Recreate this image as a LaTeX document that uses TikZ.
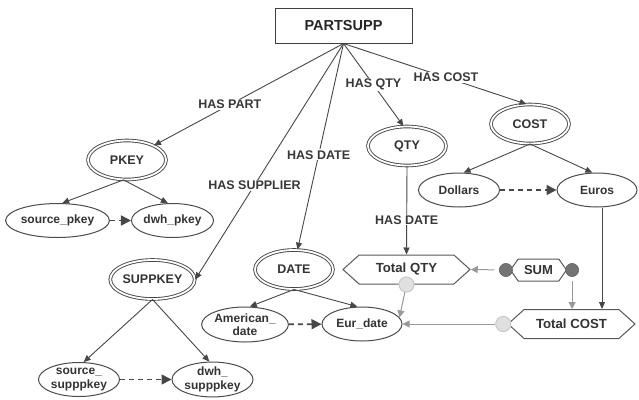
\documentclass[tikz,border=0pt]{standalone}
\usepackage{fontspec}
\setmainfont{Liberation Sans}
\usetikzlibrary{shapes.geometric,shapes.symbols,arrows.meta,calc}
\begin{document}
\begin{tikzpicture}[x=1pt,y=-1pt,
  lncol/.style={draw=black!72},
  ln/.style={lncol, line width=0.9pt},
  arr/.style={ln, -{Triangle[length=7pt,width=6pt]}},
  garr/.style={draw=black!40, line width=1pt, -{Triangle[length=7pt,width=7pt]}},
  dsh/.style={lncol, line width=1.7pt, dash pattern=on 5pt off 4pt, -{Triangle[length=10pt,width=10pt]}},
  lbl/.style={fill=white, inner sep=1pt, font=\bfseries\fontsize{12.5}{14}\selectfont, text=black!78},
  dbl/.style={ellipse, draw=black!72, double, double distance=1.8pt, line width=0.9pt,
    minimum width=78pt, minimum height=39pt, inner sep=0pt,
    font=\bfseries\fontsize{12.5}{14}\selectfont, text=black!80},
  ell/.style={ellipse, draw=black!70, line width=1pt, minimum width=81pt, minimum height=34pt,
    inner sep=0pt, align=center, font=\bfseries\fontsize{12}{13.5}\selectfont, text=black!80},
  hexa/.style={signal, signal to=west and east, signal pointer angle=84, draw=black!65,
    line width=1pt, minimum width=127pt, minimum height=29pt, inner sep=1pt,
    font=\bfseries\fontsize{13.2}{15}\selectfont, text=black!80},
  darkdot/.style={circle, fill=black!55, draw=black!60, minimum size=13pt, inner sep=0pt},
  lightdot/.style={circle, fill=black!12, draw=black!22, line width=0.8pt, minimum size=15pt, inner sep=0pt}
]
\useasboundingbox[fill=white] (0,0) rectangle (639,399);

% nodes
\node[draw=black!75, line width=1pt, minimum width=137pt, minimum height=35pt,
      font=\bfseries\fontsize{14.5}{16}\selectfont, text=black!85] (ps) at (343.5,25.5) {PARTSUPP};

\node[dbl] (pkey) at (127,160) {PKEY};
\node[dbl] (qty)  at (407,146) {QTY};
\node[dbl] (cost) at (530,124) {COST};
\node[dbl] (sk)   at (152.5,279.5) {SUPPKEY};
\node[dbl] (date) at (294,269.5) {DATE};

\node[ell] (sp)  at (57.5,220.5) {source\_pkey};
\node[ell] (dp)  at (172.5,220.5) {dwh\_pkey};
\node[ell] (ssp) at (79,379.5) {source\_\\supppkey};
\node[ell] (dsp) at (212.5,379.5) {dwh\_\\supppkey};
\node[ell, minimum width=84pt, minimum height=35pt] (am) at (245,324.5) {American\_\\date};
\node[ell, minimum width=80pt] (ed) at (362,324) {Eur\_date};
\node[ell] (dol) at (459,190) {Dollars};
\node[ell, minimum width=80pt] (eu) at (597,190) {Euros};

\node[hexa] (tq) at (406.5,269.5) {Total QTY};
\node[hexa] (tc) at (571.5,324) {Total COST};
\node[signal, signal to=west and east, signal pointer angle=110, draw=black!65, line width=1pt,
      minimum width=56pt, minimum height=22pt, inner sep=1pt,
      font=\bfseries\fontsize{13}{15}\selectfont, text=black!80] (sum) at (538.5,270) {SUM};

\node[darkdot] (sdl) at ($(sum.west)+(-4,0)$) {};
\node[darkdot] (sdr) at ($(sum.east)+(5,0)$) {};
\node[lightdot] (lc1) at (tq.south) {};
\node[lightdot] (lc2) at ($(tc.west)+(-4,0)$) {};

% connectors from PARTSUPP
\draw[arr] (ps.south) -- node[lbl, pos=0.6] {HAS PART} (pkey);
\draw[arr] (ps.south) -- node[lbl, pos=0.6] {HAS SUPPLIER} (sk.east);
\draw[arr] (ps.south) -- node[lbl, pos=0.54] {HAS DATE} (date.80);
\draw[arr] (ps.south) -- node[lbl, pos=0.5] {HAS QTY} (qty.100);
\draw[arr] (ps.south) -- node[lbl, pos=0.56] {HAS COST} (cost.100);

% children
\draw[arr] (pkey.-100) -- (sp.75);
\draw[arr] (pkey.-100) -- (dp.105);
\draw[dsh] (sp) -- (dp);

\draw[arr] (sk.south) -- (ssp.75);
\draw[arr] (sk.south) -- (dsp.100);
\draw[dsh] (ssp) -- (dsp);

\draw[arr] (date.south) -- (am.75);
\draw[arr] (date.south) -- (ed.105);
\draw[dsh] (am) -- (ed);

\draw[arr] (cost.south) -- (dol.75);
\draw[arr] (cost.south) -- (eu.105);
\draw[dsh] (dol) -- (eu);

\draw[arr] (qty.south) -- node[lbl, pos=0.61] {HAS DATE} (tq.north);

\coordinate (eus) at ($(eu.south)+(5,0)$);
\draw[arr] (eus) -- (eus |- tc.north);

% gray aggregation arrows
\draw[garr, shorten <=5pt] (sdl) -- (tq.east);
\draw[garr, shorten <=4pt] (sdr) -- (sdr |- tc.north);
\draw[garr] (lc2) -- (ed.east);
\draw[garr] (lc1) -- (ed.10);

% redraw dots on top
\node[darkdot] at (sdl) {};
\node[darkdot] at (sdr) {};
\node[lightdot] at (lc1) {};
\node[lightdot] at (lc2) {};
\end{tikzpicture}
\end{document}
